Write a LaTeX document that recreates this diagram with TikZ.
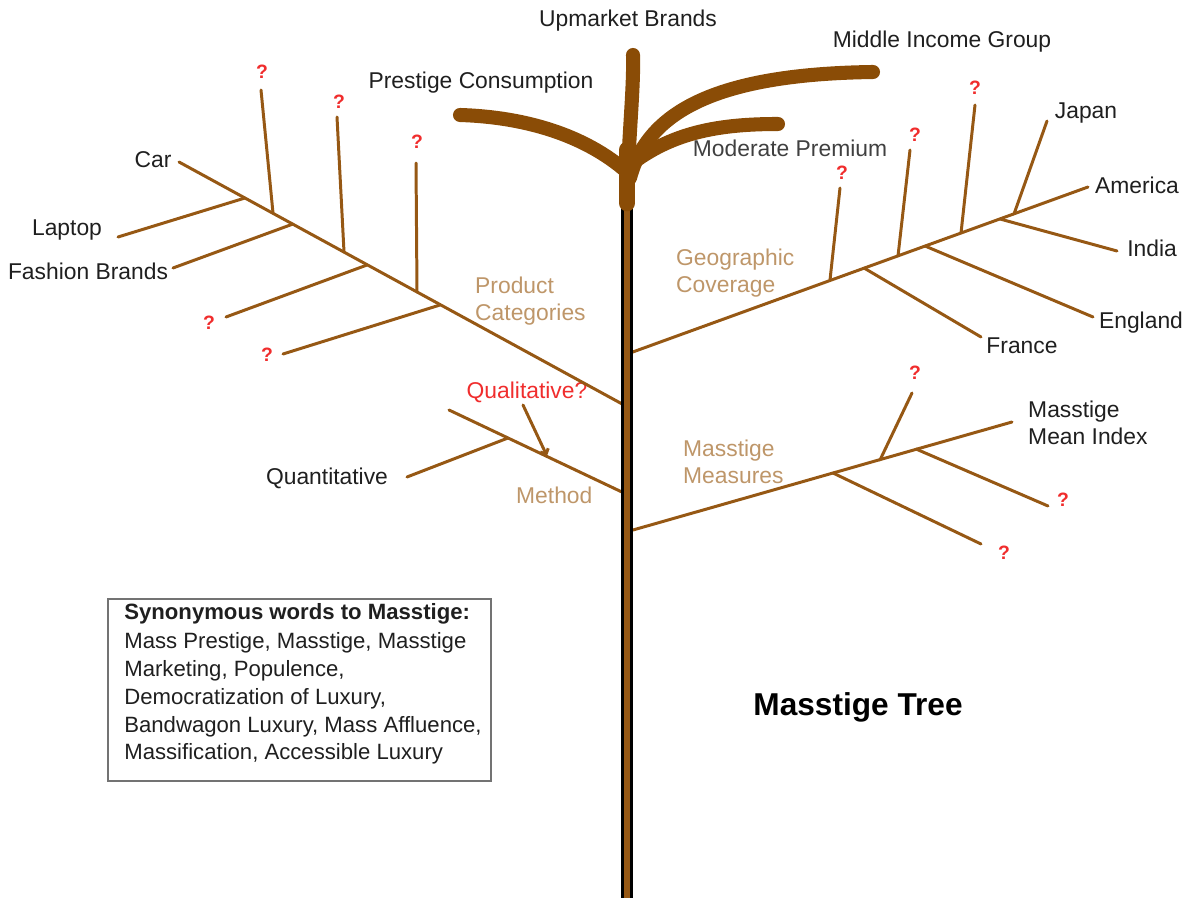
\documentclass[tikz,border=0pt]{standalone}
\usepackage{fontspec}
\setmainfont{Liberation Sans}
\usepackage{tikz}
\usetikzlibrary{arrows.meta}
\definecolor{branchcol}{RGB}{150,88,20}
\definecolor{crowncol}{RGB}{138,76,6}
\definecolor{groupcol}{RGB}{190,150,105}
\definecolor{askcol}{RGB}{240,45,45}

\begin{document}
\begin{tikzpicture}[
			x=0.02cm,
			y=-0.02cm,
			branch/.style={
				draw=branchcol,
				line width=1.7pt,
				line cap=round
			},
			crown/.style={
				draw=crowncol,
				line width=8pt,
				line cap=round
			},
			leaf/.style={
				font=\fontsize{13}{15}\selectfont,
				text=black!88
			},
			ask/.style={
				font=\bfseries\fontsize{11}{13}\selectfont,
				text=askcol
			},
			group/.style={
				font=\fontsize{13}{15}\selectfont,
				text=groupcol,
				align=left,
				anchor=west
			}
			]
			\useasboundingbox (0,0) rectangle (1189,898);
			
			% Trunk points
			\coordinate (root) at (627,898);
			\coordinate (base) at (627,203);
			\coordinate (top) at (627,150);
			
			% Product categories
			\coordinate (pc0) at (624,405);
			\coordinate (pc1) at (179,162);
			\coordinate (pcA) at (245,198);
			\coordinate (pcB) at (293,224);
			\coordinate (pcC) at (367,265);
			\coordinate (pcD) at (440,305);
			\coordinate (pcE) at (273,213);
			\coordinate (pcF) at (344,252);
			\coordinate (pcG) at (417,292);
			\coordinate (laptopEnd) at (118,237);
			\coordinate (fashionEnd) at (173,268);
			\coordinate (pcCEnd) at (226,317);
			\coordinate (pcDEnd) at (283,354);
			\coordinate (pcEEnd) at (261,90);
			\coordinate (pcFEnd) at (337,117);
			\coordinate (pcGEnd) at (416,163);
			
			% Geographic coverage
			\coordinate (gc0) at (630,353);
			\coordinate (gc1) at (1088,187);
			\coordinate (gcA) at (830,280);
			\coordinate (gcB) at (898,256);
			\coordinate (gcC) at (961,233);
			\coordinate (gcD) at (1014,214);
			\coordinate (gcE) at (1000,219);
			\coordinate (gcF) at (925,246);
			\coordinate (gcG) at (864,268);
			\coordinate (gcAEnd) at (840,188);
			\coordinate (gcBEnd) at (910,150);
			\coordinate (gcCEnd) at (975,105);
			\coordinate (japanEnd) at (1047,121);
			\coordinate (indiaEnd) at (1117,251);
			\coordinate (englandEnd) at (1093,317);
			\coordinate (franceEnd) at (981,337);
			
			% Method
			\coordinate (me0) at (624,493);
			\coordinate (me1) at (449,410);
			\coordinate (meA) at (508,438);
			\coordinate (meB) at (547,456);
			\coordinate (quantEnd) at (407,477);
			\coordinate (qualStart) at (523,405);
			
			% Masstige measures
			\coordinate (mm0) at (633,530);
			\coordinate (mm1) at (1012,422);
			\coordinate (mmA) at (880,460);
			\coordinate (mmB) at (916,449);
			\coordinate (mmC) at (833,473);
			\coordinate (mmAEnd) at (912,393);
			\coordinate (mmBEnd) at (1048,506);
			\coordinate (mmCEnd) at (981,544);
			
			% Crown ends
			\coordinate (upEnd) at (633,55);
			\coordinate (prestigeEnd) at (460,115);
			\coordinate (middleEnd) at (873,72);
			\coordinate (moderateEnd) at (778,124);
			
			% Labels
			\node[leaf] (upmarket) at (628,21) {Upmarket Brands};
			\node[leaf] (middle) at (942,42) {Middle Income Group};
			\node[leaf] (prestige) at (481,83) {Prestige Consumption};
			\node[leaf, text=black!75] (moderate) at (790,148) {Moderate Premium};
			\node[leaf] (car) at (153,160) {Car};
			\node[leaf] (laptop) at (67,230) {Laptop};
			\node[leaf] (fashion) at (88,271) {Fashion Brands};
			\node[leaf] (japan) at (1086,113) {Japan};
			\node[leaf] (america) at (1137,185) {America};
			\node[leaf] (india) at (1152,248) {India};
			\node[leaf] (england) at (1141,323) {England};
			\node[leaf] (france) at (1022,346) {France};
			\node[leaf] (quant) at (327,478) {Quantitative};
			\node[leaf, align=left, anchor=west] (meanindex) at (1022,423) {Masstige\\Mean Index};
			\node[text=askcol, font=\fontsize{13}{15}\selectfont] (qual) at (527,392) {Qualitative?};
			
			\node[group] (product) at (469,301) {Product\\Categories};
			\node[group] (geo) at (670,273) {Geographic\\Coverage};
			\node[group] (method) at (510,495) {Method};
			\node[group] (measures) at (677,462) {Masstige\\Measures};
			
			\node[ask] (askpc1) at (262,72) {?};
			\node[ask] (askpc2) at (339,102) {?};
			\node[ask] (askpc3) at (417,142) {?};
			\node[ask] (askpc4) at (209,323) {?};
			\node[ask] (askpc5) at (267,355) {?};
			\node[ask] (askgc1) at (842,173) {?};
			\node[ask] (askgc2) at (915,135) {?};
			\node[ask] (askgc3) at (975,88) {?};
			\node[ask] (askmm1) at (915,373) {?};
			\node[ask] (askmm2) at (1063,500) {?};
			\node[ask] (askmm3) at (1004,553) {?};
			
			\node[font=\bfseries\fontsize{18}{21}\selectfont] (title) at (858,707) {Masstige Tree};
			
			% Synonym box
			\node[draw=black!55, line width=1.1pt, anchor=north west,
			minimum width=7.66cm, minimum height=3.64cm] (synframe) at (107,598) {};
			\node[anchor=north west, align=left, inner sep=0pt,
			font=\fontsize{12.6}{15.8}\selectfont, text=black!88] (syntext) at (124,603)
			{\textbf{Synonymous words to Masstige:}\\[1pt]
				Mass Prestige, Masstige, Masstige\\
				Marketing, Populence,\\
				Democratization of Luxury,\\
				Bandwagon Luxury, Mass Affluence,\\
				Massification, Accessible Luxury};
			
			% Branches
			\draw[branch] (pc0) -- (pc1);
			\draw[branch] (pcA) -- (laptopEnd);
			\draw[branch] (pcB) -- (fashionEnd);
			\draw[branch] (pcC) -- (pcCEnd);
			\draw[branch] (pcD) -- (pcDEnd);
			\draw[branch] (pcE) -- (pcEEnd);
			\draw[branch] (pcF) -- (pcFEnd);
			\draw[branch] (pcG) -- (pcGEnd);
			
			\draw[branch] (gc0) -- (gc1);
			\draw[branch] (gcA) -- (gcAEnd);
			\draw[branch] (gcB) -- (gcBEnd);
			\draw[branch] (gcC) -- (gcCEnd);
			\draw[branch] (gcD) -- (japanEnd);
			\draw[branch] (gcE) -- (indiaEnd);
			\draw[branch] (gcF) -- (englandEnd);
			\draw[branch] (gcG) -- (franceEnd);
			
			\draw[branch] (me0) -- (me1);
			\draw[branch] (meA) -- (quantEnd);
			\draw[branch, -{Straight Barb[length=2.5pt]}] (qualStart) -- (meB);
			
			\draw[branch] (mm0) -- (mm1);
			\draw[branch] (mmA) -- (mmAEnd);
			\draw[branch] (mmB) -- (mmBEnd);
			\draw[branch] (mmC) -- (mmCEnd);
			
			% Trunk
			\draw[line width=6.5pt] (root) -- (base);
			\draw[draw=branchcol, line width=3.8pt] (root) -- (base);
			
			% Crown
			\draw[crown, line width=9.5pt] (base) -- (top);
			\draw[crown] (base) .. controls (628,140) and (634,90) .. (upEnd);
			\draw[crown] (627,172) .. controls (585,135) and (525,117) .. (prestigeEnd);
			\draw[crown] (630,178) .. controls (648,110) and (720,74) .. (middleEnd);
			\draw[crown] (634,162) .. controls (675,132) and (720,124) .. (moderateEnd);
		\end{tikzpicture}
\end{document}
